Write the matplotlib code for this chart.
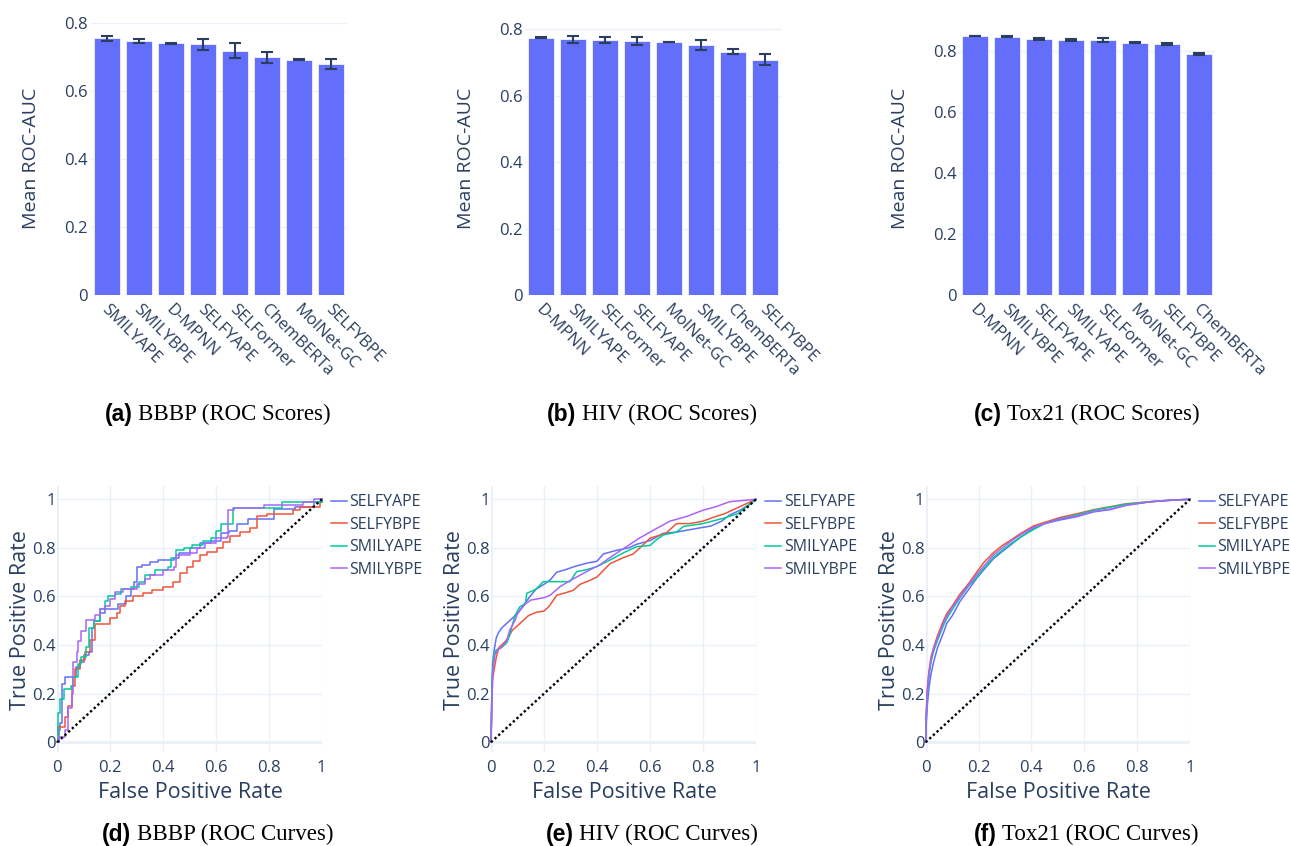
import matplotlib.pyplot as plt
import matplotlib.transforms as mtransforms
from matplotlib.offsetbox import TextArea, HPacker, AnnotationBbox

# plotly_white look
TEXT = "#2a3f5f"
GRID = "#ebf0f8"
BAR = "#636efa"
CURVE_COLORS = ["#636efa", "#EF553B", "#00cc96", "#ab63fa"]

# ---- bar data (mean ROC-AUC, error) ----
bbbp_models = ["SMILYAPE", "SMILYBPE", "D-MPNN", "SELFYAPE", "SELFormer", "ChemBERTa", "MolNet-GC", "SELFYBPE"]
bbbp_mean = [0.754, 0.747, 0.739, 0.737, 0.718, 0.698, 0.691, 0.678]
bbbp_err = [0.007, 0.006, 0.001, 0.016, 0.022, 0.015, 0.001, 0.014]

hiv_models = ["D-MPNN", "SMILYAPE", "SELFormer", "SELFYAPE", "MolNet-GC", "SMILYBPE", "ChemBERTa", "SELFYBPE"]
hiv_mean = [0.775, 0.770, 0.768, 0.766, 0.762, 0.753, 0.733, 0.708]
hiv_err = [0.001, 0.011, 0.010, 0.012, 0.001, 0.016, 0.0085, 0.0165]

tox21_models = ["D-MPNN", "SMILYBPE", "SELFYAPE", "SMILYAPE", "SELFormer", "MolNet-GC", "SELFYBPE", "ChemBERTa"]
tox21_mean = [0.850, 0.848, 0.840, 0.837, 0.836, 0.828, 0.825, 0.790]
tox21_err = [0.001, 0.003, 0.003, 0.002, 0.007, 0.002, 0.003, 0.004]

# ---- ROC curves, (fpr, tpr) points ----
roc_labels = ["SELFYAPE", "SELFYBPE", "SMILYAPE", "SMILYBPE"]

bbbp_selfyape = [(0, 0), (0.005, 0.05), (0.01, 0.08), (0.016, 0.24), (0.03, 0.27), (0.06, 0.27), (0.07, 0.31),
                 (0.085, 0.33), (0.1, 0.36), (0.12, 0.37), (0.13, 0.47), (0.14, 0.5), (0.16, 0.53), (0.18, 0.55),
                 (0.21, 0.55), (0.23, 0.57), (0.26, 0.6), (0.28, 0.63), (0.29, 0.66), (0.3, 0.72), (0.32, 0.73),
                 (0.35, 0.74), (0.38, 0.75), (0.44, 0.76), (0.46, 0.78), (0.5, 0.8), (0.54, 0.82), (0.58, 0.83),
                 (0.62, 0.86), (0.65, 0.87), (0.68, 0.9), (0.72, 0.92), (0.82, 0.96), (0.9, 0.97), (0.97, 0.99),
                 (1, 1)]
bbbp_selfybpe = [(0, 0), (0.004, 0.064), (0.029, 0.105), (0.042, 0.15), (0.054, 0.23), (0.067, 0.3), (0.086, 0.34),
                 (0.105, 0.37), (0.124, 0.42), (0.142, 0.485), (0.2, 0.51), (0.224, 0.53), (0.237, 0.56),
                 (0.256, 0.58), (0.288, 0.6), (0.325, 0.615), (0.357, 0.625), (0.401, 0.64), (0.439, 0.66),
                 (0.464, 0.695), (0.489, 0.72), (0.515, 0.745), (0.54, 0.77), (0.565, 0.785), (0.603, 0.8),
                 (0.628, 0.825), (0.653, 0.85), (0.691, 0.865), (0.729, 0.88), (0.754, 0.93), (0.792, 0.94),
                 (0.893, 0.955), (0.918, 0.97), (0.994, 0.99), (1, 1)]
bbbp_smilyape = [(0, 0), (0.002, 0.12), (0.01, 0.18), (0.025, 0.22), (0.05, 0.23), (0.06, 0.27), (0.08, 0.32),
                 (0.09, 0.35), (0.11, 0.39), (0.12, 0.47), (0.14, 0.5), (0.16, 0.55), (0.18, 0.58), (0.19, 0.6),
                 (0.22, 0.61), (0.24, 0.63), (0.28, 0.64), (0.31, 0.66), (0.33, 0.69), (0.37, 0.71), (0.42, 0.72),
                 (0.43, 0.76), (0.45, 0.79), (0.48, 0.8), (0.51, 0.81), (0.55, 0.83), (0.58, 0.84), (0.6, 0.87),
                 (0.62, 0.9), (0.665, 0.965), (0.85, 0.99), (1, 1)]
bbbp_smilybpe = [(0, 0), (0.005, 0.02), (0.029, 0.05), (0.041, 0.14), (0.054, 0.2), (0.06, 0.33), (0.073, 0.37),
                 (0.079, 0.415), (0.091, 0.457), (0.11, 0.505), (0.141, 0.525), (0.16, 0.547), (0.179, 0.56),
                 (0.2, 0.59), (0.22, 0.62), (0.25, 0.63), (0.3, 0.65), (0.33, 0.67), (0.35, 0.69), (0.4, 0.71),
                 (0.44, 0.72), (0.45, 0.77), (0.5, 0.78), (0.53, 0.8), (0.56, 0.82), (0.6, 0.84), (0.64, 0.845),
                 (0.647, 0.955), (0.67, 0.965), (0.78, 0.975), (0.93, 0.99), (0.97, 1.0), (1, 1)]

hiv_selfyape = [(0, 0), (0.003, 0.2), (0.006, 0.32), (0.012, 0.38), (0.02, 0.43), (0.028, 0.45), (0.04, 0.47),
                (0.06, 0.49), (0.08, 0.51), (0.1, 0.53), (0.12, 0.56), (0.147, 0.6), (0.17, 0.63), (0.2, 0.65),
                (0.225, 0.67), (0.248, 0.7), (0.28, 0.71), (0.32, 0.725), (0.361, 0.737), (0.4, 0.745),
                (0.424, 0.775), (0.474, 0.79), (0.52, 0.8), (0.55, 0.815), (0.6, 0.83), (0.65, 0.86), (0.7, 0.865),
                (0.776, 0.88), (0.83, 0.89), (0.87, 0.91), (0.9, 0.935), (0.94, 0.955), (0.977, 0.98), (1, 1)]
hiv_selfybpe = [(0, 0), (0.003, 0.15), (0.006, 0.26), (0.012, 0.3), (0.02, 0.35), (0.03, 0.39), (0.05, 0.41),
                (0.065, 0.43), (0.08, 0.46), (0.1, 0.48), (0.12, 0.5), (0.14, 0.52), (0.17, 0.535), (0.2, 0.54),
                (0.22, 0.56), (0.248, 0.605), (0.28, 0.615), (0.31, 0.625), (0.336, 0.65), (0.37, 0.665),
                (0.4, 0.68), (0.449, 0.735), (0.5, 0.76), (0.537, 0.775), (0.562, 0.8), (0.6, 0.84), (0.63, 0.85),
                (0.66, 0.86), (0.7, 0.9), (0.75, 0.9), (0.8, 0.91), (0.85, 0.93), (0.88, 0.94), (0.92, 0.96),
                (0.96, 0.98), (1, 1)]
hiv_smilyape = [(0, 0), (0.004, 0.25), (0.01, 0.36), (0.02, 0.38), (0.04, 0.39), (0.06, 0.41), (0.07, 0.44),
                (0.08, 0.48), (0.09, 0.52), (0.109, 0.558), (0.13, 0.57), (0.135, 0.613), (0.17, 0.63),
                (0.197, 0.661), (0.298, 0.661), (0.323, 0.702), (0.36, 0.71), (0.4, 0.723), (0.449, 0.75),
                (0.5, 0.78), (0.55, 0.805), (0.6, 0.81), (0.62, 0.83), (0.65, 0.853), (0.7, 0.865), (0.726, 0.888),
                (0.8, 0.9), (0.877, 0.922), (0.93, 0.94), (0.965, 0.97), (1, 1)]
hiv_smilybpe = [(0, 0), (0.003, 0.15), (0.007, 0.3), (0.015, 0.36), (0.025, 0.38), (0.04, 0.39), (0.06, 0.42),
                (0.07, 0.46), (0.09, 0.5), (0.1, 0.53), (0.13, 0.57), (0.15, 0.585), (0.2, 0.595), (0.223, 0.605),
                (0.26, 0.64), (0.298, 0.665), (0.34, 0.69), (0.374, 0.71), (0.41, 0.73), (0.449, 0.76),
                (0.49, 0.79), (0.525, 0.815), (0.56, 0.84), (0.6, 0.865), (0.675, 0.91), (0.74, 0.93),
                (0.8, 0.955), (0.85, 0.97), (0.9, 0.99), (0.95, 0.995), (1, 1)]

tox21_selfyape = [(0, 0), (0.002, 0.07), (0.006, 0.15), (0.012, 0.22), (0.02, 0.28), (0.03, 0.33), (0.045, 0.39),
                  (0.067, 0.45), (0.08, 0.49), (0.1, 0.52), (0.13, 0.58), (0.16, 0.625), (0.193, 0.675),
                  (0.22, 0.71), (0.256, 0.755), (0.29, 0.785), (0.319, 0.81), (0.36, 0.845), (0.407, 0.88),
                  (0.45, 0.9), (0.508, 0.915), (0.57, 0.928), (0.634, 0.948), (0.7, 0.958), (0.76, 0.977),
                  (0.85, 0.99), (0.93, 0.996), (1, 1)]
tox21_selfybpe = [(0, 0), (0.002, 0.12), (0.006, 0.22), (0.012, 0.29), (0.02, 0.35), (0.03, 0.39), (0.045, 0.44),
                  (0.067, 0.5), (0.08, 0.53), (0.1, 0.56), (0.13, 0.61), (0.16, 0.65), (0.193, 0.7), (0.22, 0.74),
                  (0.256, 0.78), (0.29, 0.81), (0.319, 0.83), (0.36, 0.86), (0.407, 0.89), (0.45, 0.905),
                  (0.508, 0.925), (0.57, 0.94), (0.634, 0.957), (0.7, 0.97), (0.76, 0.982), (0.85, 0.99),
                  (0.93, 0.997), (1, 1)]
tox21_smilyape = [(0, 0), (0.002, 0.1), (0.006, 0.2), (0.012, 0.27), (0.02, 0.33), (0.03, 0.375), (0.045, 0.42),
                  (0.067, 0.48), (0.08, 0.51), (0.1, 0.545), (0.13, 0.595), (0.16, 0.64), (0.193, 0.68),
                  (0.22, 0.715), (0.256, 0.76), (0.29, 0.79), (0.319, 0.815), (0.36, 0.845), (0.407, 0.875),
                  (0.45, 0.9), (0.508, 0.92), (0.57, 0.935), (0.634, 0.955), (0.7, 0.968), (0.76, 0.98),
                  (0.85, 0.99), (0.93, 0.997), (1, 1)]
tox21_smilybpe = [(0, 0), (0.002, 0.11), (0.006, 0.21), (0.012, 0.28), (0.02, 0.34), (0.03, 0.385), (0.045, 0.43),
                  (0.067, 0.49), (0.08, 0.52), (0.1, 0.555), (0.13, 0.6), (0.16, 0.645), (0.193, 0.69),
                  (0.22, 0.725), (0.256, 0.77), (0.29, 0.8), (0.319, 0.825), (0.36, 0.855), (0.407, 0.885),
                  (0.45, 0.9), (0.508, 0.92), (0.57, 0.93), (0.634, 0.95), (0.7, 0.96), (0.76, 0.975),
                  (0.85, 0.99), (0.93, 0.996), (1, 1)]

captions = [("(a)", "BBBP (ROC Scores)"), ("(b)", "HIV (ROC Scores)"), ("(c)", "Tox21 (ROC Scores)"),
            ("(d)", "BBBP (ROC Curves)"), ("(e)", "HIV (ROC Curves)"), ("(f)", "Tox21 (ROC Curves)")]

plt.rcParams["font.family"] = ["Open Sans", "DejaVu Sans"]

W, H = 1291, 846
fig = plt.figure(figsize=(W / 100, H / 100), dpi=100)


def px_axes(left, top, right, bottom):
    return fig.add_axes([left / W, 1 - bottom / H, (right - left) / W, (bottom - top) / H])


def style(ax):
    for s in ax.spines.values():
        s.set_visible(False)
    ax.tick_params(length=0, labelsize=12, labelcolor=TEXT)
    ax.set_axisbelow(True)


def bar_panel(ax, models, mean, err):
    style(ax)
    x = range(len(models))
    ax.bar(x, mean, width=0.8, color=BAR, edgecolor="white", linewidth=0.5)
    ax.errorbar(x, mean, yerr=err, fmt="none", ecolor=TEXT, elinewidth=1.5, capsize=4.5, capthick=1.5)
    ax.set_xlim(-0.5, len(models) - 0.5)
    ax.set_ylim(0, max(m + e for m, e in zip(mean, err)) * 1.05)
    ax.set_yticks([0, 0.2, 0.4, 0.6, 0.8])
    ax.set_yticklabels(["0", "0.2", "0.4", "0.6", "0.8"])
    ax.grid(axis="y", color=GRID, linewidth=1)
    ax.tick_params(axis="y", pad=2)
    ax.tick_params(axis="x", pad=9)
    ax.set_xticks(list(x))
    ax.set_xticklabels(models, rotation=-45, ha="left", va="center", rotation_mode="anchor")
    shift = mtransforms.ScaledTranslation(-3 / 100, 0, fig.dpi_scale_trans)
    for lab in ax.get_xticklabels():
        lab.set_transform(lab.get_transform() + shift)
    ax.set_ylabel("Mean ROC-AUC", fontsize=14, color=TEXT, va="center")
    ax.yaxis.set_label_coords(-0.232, 0.5)


def roc_panel(ax, curves, step):
    style(ax)
    ax.axhline(0, color=GRID, linewidth=2, zorder=0.5)
    ax.axvline(0, color=GRID, linewidth=2, zorder=0.5)
    for pts, lab, c in zip(curves, roc_labels, CURVE_COLORS):
        fpr = [p[0] for p in pts]
        tpr = [p[1] for p in pts]
        ax.plot(fpr, tpr, color=c, linewidth=1.1, label=lab,
                drawstyle="steps-post" if step else "default", clip_on=False)
    ax.plot([0, 1], [0, 1], color="black", linewidth=1.7, linestyle=(0, (1, 1.1)), clip_on=False)
    ax.set_xlim(0, 1)
    ax.set_ylim(-0.039, 1.056)
    t = [0, 0.2, 0.4, 0.6, 0.8, 1]
    lbl = ["0", "0.2", "0.4", "0.6", "0.8", "1"]
    ax.set_xticks(t)
    ax.set_xticklabels(lbl)
    ax.set_yticks(t)
    ax.set_yticklabels(lbl)
    ax.grid(color=GRID, linewidth=1)
    ax.tick_params(axis="y", pad=1)
    ax.tick_params(axis="x", pad=6)
    ax.set_xlabel("False Positive Rate", fontsize=15.5, color=TEXT, va="center")
    ax.set_ylabel("True Positive Rate", fontsize=15.5, color=TEXT, va="center")
    ax.xaxis.set_label_coords(0.504, -0.154)
    ax.yaxis.set_label_coords(-0.138, 0.495)
    ax.legend(loc="upper left", bbox_to_anchor=(1.035, 0.967), frameon=False, fontsize=11.5,
              labelcolor=TEXT, handlelength=1.0, handletextpad=0.15, labelspacing=0.40,
              borderpad=0, borderaxespad=0)


bar_panel(px_axes(90.8, 22.7, 347, 295), bbbp_models, bbbp_mean, bbbp_err)
bar_panel(px_axes(525.1, 22.7, 781.1, 295), hiv_models, hiv_mean, hiv_err)
bar_panel(px_axes(959.1, 22.7, 1215.1, 295), tox21_models, tox21_mean, tox21_err)

roc_panel(px_axes(57.3, 485.7, 321.7, 751.7), [bbbp_selfyape, bbbp_selfybpe, bbbp_smilyape, bbbp_smilybpe], True)
roc_panel(px_axes(491, 485.7, 756, 751.7), [hiv_selfyape, hiv_selfybpe, hiv_smilyape, hiv_smilybpe], False)
roc_panel(px_axes(925.7, 485.7, 1190, 751.7), [tox21_selfyape, tox21_selfybpe, tox21_smilyape, tox21_smilybpe], False)

# captions: bold sans letter + serif title
cap_x = [217.5, 652, 1086.5, 217.5, 652, 1086.5]
cap_y = [414, 414, 414, 834, 834, 834]
for (letter, title), cx, cy in zip(captions, cap_x, cap_y):
    a = TextArea(letter, textprops=dict(family="Liberation Sans", weight="bold", fontsize=16.5, color="black"))
    b = TextArea(title, textprops=dict(family="Liberation Serif", fontsize=16.5, color="black"))
    box = HPacker(children=[a, b], align="baseline", pad=0, sep=4)
    fig.add_artist(AnnotationBbox(box, (cx, H - cy), xycoords="figure pixels", frameon=False,
                                  box_alignment=(0.5, 0.5)))

fig.savefig("out.png", dpi=100)
